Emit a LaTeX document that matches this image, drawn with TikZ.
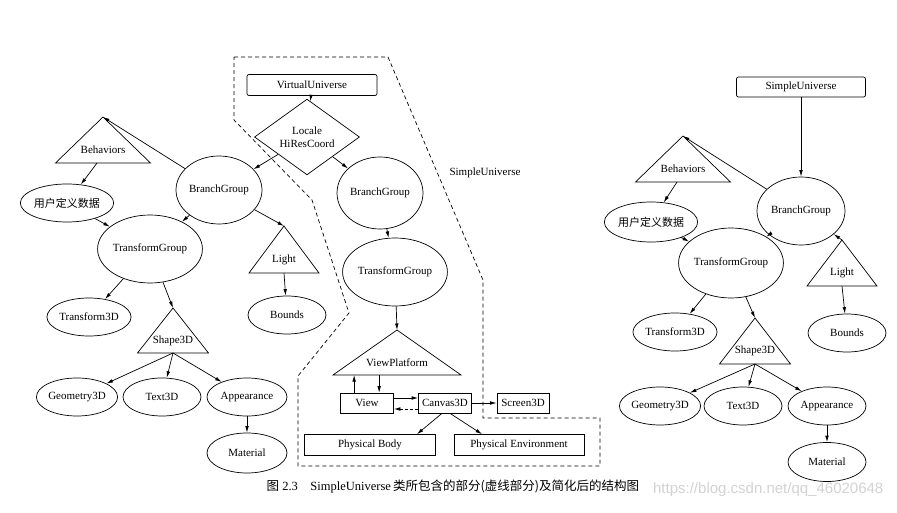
\documentclass[tikz,border=0pt]{standalone}
\usepackage{fontspec}
\setmainfont{Liberation Serif}
\newfontfamily\cjk{Noto Sans CJK SC}
\newfontfamily\wmfont{Liberation Sans}
\usetikzlibrary{shapes.geometric, arrows.meta, calc}

\tikzset{
    every node/.style={font=\fontsize{11}{13}\selectfont},
    oval/.style={draw, ellipse, inner sep=0pt, minimum width=78pt, minimum height=38pt},
    bigoval/.style={oval, minimum width=86pt, minimum height=68pt},
    box/.style={draw, rectangle, inner sep=0pt, minimum height=20pt},
    rbox/.style={box, rounded corners=2pt},
    link/.style={-{Latex[length=6.5pt, width=3.6pt]}},
}

% triangle: name, apex, half base, height, text
\newcommand\trinode[5]{%
    \coordinate (#1 apex) at (#2);
    \coordinate (#1 base) at ($(#1 apex)+(0,#4)$);
    \draw (#1 apex) -- ++(-#3,#4) -- ++(2*#3,0) -- cycle;
    \node (#1) at ($(#1 apex)+(0,0.72*#4)$) {#5};
}

\begin{document}
\begin{tikzpicture}[x=1pt, y=-1pt, line width=0.7pt]
    \useasboundingbox (0, 0) rectangle (897, 513);

    % left: scene graph
    \trinode{beh}{103, 117}{47.5}{46}{Behaviors}
    \node[oval, minimum width=80pt] (udd) at (67, 203) {\cjk 用户定义数据};
    \node[bigoval] (bg) at (219, 190) {BranchGroup};
    \node[bigoval] (tg) at (150, 249) {TransformGroup};
    \trinode{light}{284, 226}{35}{47}{Light}
    \node[oval] (bounds) at (287, 315) {Bounds};
    \node[oval] (t3d) at (89, 317) {Transform3D};
    \trinode{s3d}{173, 308}{35.5}{45}{Shape3D}
    \node[oval] (geo) at (77, 397) {Geometry3D};
    \node[oval] (txt) at (162, 397) {Text3D};
    \node[oval, minimum width=80pt] (app) at (247, 397) {Appearance};
    \node[oval, minimum width=80pt, minimum height=40pt] (mat) at (247, 453) {Material};

    \draw[link] (bg) -- (beh apex);
    \draw[link] ([xshift=-6pt]beh base) -- (udd);
    \draw[link] (udd) -- (tg);
    \draw[link] (bg) -- (tg);
    \draw[link] (bg) -- (light apex);
    \draw[link] (light base) -- (bounds);
    \draw[link] (tg) -- (t3d);
    \draw[link] (tg) -- (s3d apex);
    \draw[link] (s3d base) -- (geo);
    \draw[link] (s3d base) -- (txt);
    \draw[link] (s3d base) -- (app);
    \draw[link] (app) -- (mat);

    % middle: the SimpleUniverse part
    \node[rbox, minimum width=130pt, minimum height=21pt] (vu) at (312, 85) {VirtualUniverse};
    \node[draw, diamond, inner sep=0pt, minimum width=105pt, minimum height=52pt,
        align=center] (loc) at (307, 137) {Locale\\HiResCoord};
    \node[bigoval, minimum height=72pt] (bgb) at (380, 193) {BranchGroup};
    \node[bigoval, minimum width=80pt] (tgb) at (395, 272) {TransformGroup};
    \trinode{vp}{397, 330}{64}{45}{ViewPlatform}
    \node[box, minimum width=53pt] (view) at (367, 403) {View};
    \node[box, minimum width=53pt] (canvas) at (445, 403) {Canvas3D};
    \node[box, minimum width=52pt] (screen) at (523, 403) {Screen3D};
    \node[box, minimum width=131pt, minimum height=21pt] (pbody) at (370, 445) {Physical Body};
    \node[box, minimum width=130pt, minimum height=21pt] (penv) at (519, 445) {Physical Environment};
    \node (sulabel) at (485, 173) {SimpleUniverse};

    \draw[link] (vu) -- (loc);
    \draw[link] (loc) -- (bg);
    \draw[link] (loc) -- (bgb);
    \draw[link] (bgb) -- (tgb);
    \draw[link] (tgb) -- (vp apex);
    \draw[link] ([xshift=14pt]view.north west) -- ([xshift=14pt]view.north west |- vp base);
    \draw[link] ([xshift=39pt]view.north west |- vp base) -- ([xshift=39pt]view.north west);
    \draw[link] ([yshift=5pt]view.east) -- ([yshift=5pt]canvas.west);
    \draw[link, dash pattern=on 3pt off 2pt] ([yshift=-6pt]canvas.west) -- ([yshift=-6pt]view.east);
    \draw[link] (canvas) -- (screen);
    \draw[link] ([xshift=-3pt]canvas.south) -- ([xshift=47pt]pbody.north);
    \draw[link] ([xshift=5pt]canvas.south) -- ([xshift=-37pt]penv.north);

    \draw[dash pattern=on 4pt off 3pt] (234, 57) -- (388, 57) -- (483, 280) -- (483, 418)
        -- (600, 418) -- (600, 466) -- (298, 466) -- (298, 376) -- (349, 313)
        -- (312, 200) -- (234, 120) -- cycle;

    % right: simplified structure
    \node[rbox, minimum width=129pt] (su) at (801, 87) {SimpleUniverse};
    \trinode{behr}{683, 136}{47.5}{46}{Behaviors}
    \node[oval, minimum height=40pt] (uddr) at (651, 222) {\cjk 用户定义数据};
    \node[bigoval, minimum width=88pt] (bgr) at (801, 211) {BranchGroup};
    \node[bigoval, minimum height=70pt] (tgr) at (731, 263) {TransformGroup};
    \trinode{lightr}{842, 240}{35}{46}{Light}
    \node[oval] (boundsr) at (847, 333) {Bounds};
    \node[oval] (t3dr) at (675, 332) {Transform3D};
    \trinode{s3dr}{755, 318}{35.5}{46}{Shape3D}
    \node[oval] (geor) at (660, 406) {Geometry3D};
    \node[oval] (txtr) at (743, 406) {Text3D};
    \node[oval] (appr) at (827, 406) {Appearance};
    \node[oval, minimum height=39pt] (matr) at (827, 462) {Material};

    \draw[link] (su) -- (bgr);
    \draw[link] (bgr) -- (behr apex);
    \draw[link] ([xshift=-6pt]behr base) -- (uddr);
    \draw[link] (uddr) -- (tgr);
    \draw[link] (bgr) -- (tgr);
    \draw[link] (lightr apex) -- (bgr);
    \draw[link] (lightr base) -- (boundsr);
    \draw[link] (tgr) -- (t3dr);
    \draw[link] (tgr) -- (s3dr apex);
    \draw[link] (s3dr base) -- (geor);
    \draw[link] (s3dr base) -- (txtr);
    \draw[link] (s3dr base) -- (appr);
    \draw[link] (appr) -- (matr);

    % caption
    \node[anchor=east, text=gray!35, font=\wmfont\fontsize{15}{15}\selectfont] (wm) at (887, 490) {https://blog.csdn.net/qq\_46020648};
    \node[anchor=west, font=\fontsize{12.5}{14}\selectfont] (cap) at (263, 487)
        {{\cjk 图}\ 2.3\quad SimpleUniverse\,{\cjk 类所包含的部分(虚线部分)及简化后的结构图}};
\end{tikzpicture}
\end{document}
